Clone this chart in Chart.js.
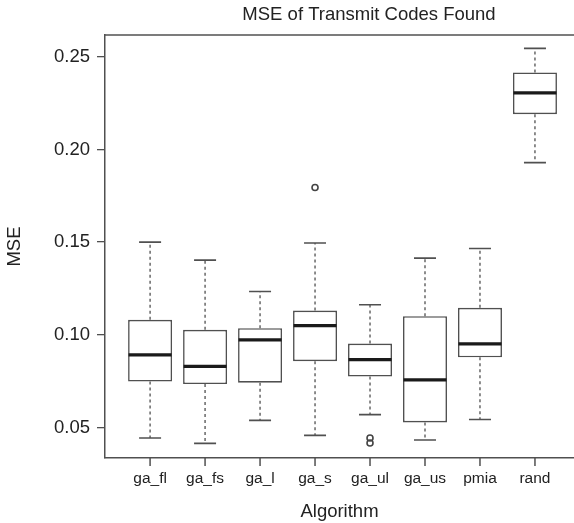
<!DOCTYPE html>
<html>
<head>
<meta charset="utf-8">
<script src="https://cdn.jsdelivr.net/npm/chart.js@4/dist/chart.umd.min.js"></script>
<style>
  html, body { margin: 0; padding: 0; background: #fff; overflow: hidden; }
  #wrap { width: 574px; height: 523px; }
</style>
</head>
<body>
<div id="wrap"><canvas id="chart" width="574" height="523"></canvas></div>
<script>
// Box plot data
const algorithms = ['ga_fl', 'ga_fs', 'ga_l', 'ga_s', 'ga_ul', 'ga_us', 'pmia', 'rand'];
const whiskerLow = [0.0444, 0.0415, 0.0539, 0.0458, 0.0570, 0.0433, 0.0544, 0.1929];
const quartile1  = [0.0748, 0.0735, 0.0742, 0.0858, 0.0775, 0.0528, 0.0879, 0.2190];
const medians    = [0.0892, 0.0830, 0.0973, 0.1050, 0.0867, 0.0757, 0.0951, 0.2305];
const quartile3  = [0.1081, 0.1027, 0.1036, 0.1131, 0.0953, 0.1101, 0.1146, 0.2415];
const whiskerHigh = [0.1500, 0.1403, 0.1234, 0.1495, 0.1162, 0.1414, 0.1466, 0.2545];
const outlierAlgo = ['ga_s', 'ga_ul', 'ga_ul'];
const outlierValues = [0.1795, 0.0444, 0.0417];
const yTicks = [0.05, 0.10, 0.15, 0.20, 0.25];

const FONT = "'Liberation Sans', Arial, sans-serif";
const LINE = '#505050';
const TEXT = '#222';

// Whiskers, caps, medians, x tick marks and the title
const boxExtras = {
    id: 'boxExtras',
    afterDraw(chart) {
        const ctx = chart.ctx;
        const xs = chart.scales.x;
        const ys = chart.scales.y;
        const unit = xs.getPixelForValue(2) - xs.getPixelForValue(1);
        ctx.save();
        algorithms.forEach((name, i) => {
            const cx = xs.getPixelForValue(i + 1);
            const yLow = ys.getPixelForValue(whiskerLow[i]);
            const yQ1 = ys.getPixelForValue(quartile1[i]);
            const yMed = ys.getPixelForValue(medians[i]);
            const yQ3 = ys.getPixelForValue(quartile3[i]);
            const yHigh = ys.getPixelForValue(whiskerHigh[i]);

            // dashed whiskers
            ctx.strokeStyle = LINE;
            ctx.lineWidth = 1.3;
            ctx.setLineDash([3, 3]);
            ctx.beginPath();
            ctx.moveTo(cx, yQ3);
            ctx.lineTo(cx, yHigh);
            ctx.moveTo(cx, yQ1);
            ctx.lineTo(cx, yLow);
            ctx.stroke();

            // caps
            ctx.setLineDash([]);
            ctx.lineWidth = 1.6;
            const half = unit * 0.2;
            ctx.beginPath();
            ctx.moveTo(cx - half, yHigh);
            ctx.lineTo(cx + half, yHigh);
            ctx.moveTo(cx - half, yLow);
            ctx.lineTo(cx + half, yLow);
            ctx.stroke();

            // median
            const boxHalf = unit * 0.4;
            ctx.strokeStyle = '#1a1a1a';
            ctx.lineWidth = 3.2;
            ctx.beginPath();
            ctx.moveTo(cx - boxHalf + 0.5, yMed);
            ctx.lineTo(cx + boxHalf - 0.5, yMed);
            ctx.stroke();

            // x tick mark
            ctx.strokeStyle = LINE;
            ctx.lineWidth = 1.5;
            ctx.beginPath();
            ctx.moveTo(cx, xs.top);
            ctx.lineTo(cx, xs.top + 8);
            ctx.stroke();
        });

        // top border of the plot box
        const area = chart.chartArea;
        ctx.strokeStyle = LINE;
        ctx.lineWidth = 1.5;
        ctx.beginPath();
        ctx.moveTo(area.left, area.top);
        ctx.lineTo(area.right, area.top);
        ctx.stroke();

        // main title
        ctx.fillStyle = TEXT;
        ctx.font = '18.5px ' + FONT;
        ctx.textAlign = 'center';
        ctx.textBaseline = 'middle';
        ctx.fillText('MSE of Transmit Codes Found', 369, 15);
        ctx.restore();
    }
};

const boxData = algorithms.map((name, i) => ({ x: i + 1, y: [quartile1[i], quartile3[i]] }));
const outlierData = outlierAlgo.map((name, i) => ({ x: algorithms.indexOf(name) + 1, y: outlierValues[i] }));

new Chart(document.getElementById('chart'), {
    type: 'bar',
    data: {
        datasets: [{
            type: 'bar',
            data: boxData,
            backgroundColor: '#ffffff',
            borderColor: LINE,
            borderWidth: 1.6,
            borderSkipped: false,
            categoryPercentage: 1,
            barPercentage: 0.8
        }, {
            type: 'scatter',
            data: outlierData,
            pointStyle: 'circle',
            pointRadius: 3,
            borderWidth: 1.6,
            borderColor: '#444',
            backgroundColor: 'rgba(0,0,0,0)'
        }]
    },
    options: {
        responsive: false,
        animation: false,
        layout: { autoPadding: false, padding: { top: 35, right: 0, bottom: 0, left: 0 } },
        plugins: {
            legend: { display: false },
            tooltip: { enabled: false }
        },
        scales: {
            x: {
                type: 'linear',
                min: 0.18,
                max: 8.71,
                offset: false,
                afterBuildTicks(scale) {
                    scale.ticks = algorithms.map((name, i) => ({ value: i + 1 }));
                },
                afterFit(scale) {
                    scale.height = 65;
                    scale.paddingLeft = 0;
                    scale.paddingRight = 0;
                },
                grid: { display: false, drawOnChartArea: false, tickLength: 8 },
                border: { display: true, color: LINE, width: 1.5 },
                ticks: {
                    autoSkip: false,
                    maxRotation: 0,
                    padding: 3,
                    color: TEXT,
                    font: { family: FONT, size: 15.5 },
                    callback: (v) => algorithms[Math.round(v) - 1] || ''
                },
                title: {
                    display: true,
                    text: 'Algorithm',
                    color: TEXT,
                    font: { family: FONT, size: 18.5 },
                    padding: { top: 0, bottom: 0 }
                }
            },
            y: {
                min: 0.0336,
                max: 0.2617,
                afterBuildTicks(scale) {
                    scale.ticks = yTicks.map(v => ({ value: v }));
                },
                afterFit(scale) { scale.width = 105; },
                grid: { drawOnChartArea: false, tickLength: 8, color: LINE, lineWidth: 1.3 },
                border: { display: true, color: LINE, width: 1.5 },
                ticks: {
                    padding: 7,
                    color: TEXT,
                    font: { family: FONT, size: 18.5 },
                    callback: (v) => v.toFixed(2)
                },
                title: {
                    display: true,
                    text: 'MSE',
                    color: TEXT,
                    font: { family: FONT, size: 18.5 },
                    padding: { top: 4, bottom: 0 }
                }
            }
        }
    },
    plugins: [boxExtras]
});
</script>
</body>
</html>
